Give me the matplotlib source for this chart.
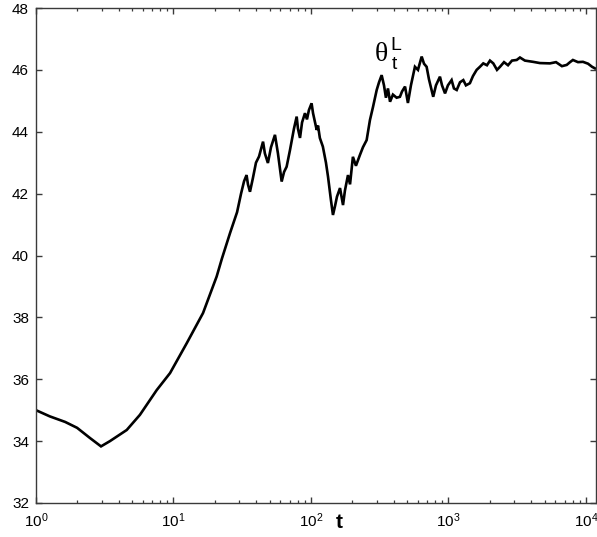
import matplotlib
matplotlib.use("Agg")
import matplotlib.pyplot as plt
from matplotlib.ticker import LogLocator, FixedLocator, NullFormatter
import matplotlib.transforms as mtransforms

plt.rcParams['font.family'] = ['Liberation Sans', 'DejaVu Sans']
plt.rcParams['mathtext.fontset'] = 'custom'
plt.rcParams['mathtext.rm'] = 'Liberation Sans'
plt.rcParams['mathtext.it'] = 'Liberation Sans:italic'
plt.rcParams['mathtext.bf'] = 'Liberation Sans:bold'

# ---- data ----
t = [1, 1.26, 1.63, 1.99, 2.47, 2.97, 3.45, 4.57, 5.7, 7.55, 9.44, 12.5, 16.4,
     20.6, 22.5, 25.8, 29.0, 31.0, 32.6, 34.0, 34.8, 36.0, 37.8, 39.8, 41.9,
     44.8, 46.2, 48.6, 51.2, 54.7, 57.5, 61.2, 63.7, 66.5, 70.3, 75.2, 78.7,
     80.4, 83.2, 86.1, 90.4, 93.5, 96.6, 101, 103.5, 110, 112.5, 116, 122,
     128.5, 133, 139.6, 144.5, 149.6, 154.5, 162.6, 171, 176.6, 185.8, 192.3,
     201.8, 212.3, 227, 238.8, 254, 268.5, 282.5, 300.6, 312.6, 326.6, 339.6,
     350.8, 363, 375.8, 394.5, 419.8, 443.6, 459.2, 483.1, 507, 533.3, 570.2,
     600, 638.3, 663.7, 693.4, 721, 774.5, 810.9, 867, 897.5, 944, 990.8,
     1054, 1096, 1148, 1213, 1282, 1340, 1432, 1507, 1603, 1694, 1791, 1905,
     2004, 2118, 2254, 2371, 2535, 2710, 2897, 3133, 3311, 3597, 4121, 4624,
     5470, 6053, 6683, 7244, 7656, 8035, 8750, 9506, 10350, 11070, 11610]
theta_L = [35.0, 34.8, 34.62, 34.43, 34.1, 33.83, 34.0, 34.36, 34.85, 35.65,
           36.2, 37.17, 38.14, 39.32, 39.9, 40.73, 41.4, 42.0, 42.4, 42.6,
           42.3, 42.06, 42.5, 43.0, 43.2, 43.68, 43.3, 42.99, 43.5, 43.9,
           43.3, 42.39, 42.7, 42.87, 43.4, 44.1, 44.49, 44.1, 43.8, 44.3,
           44.6, 44.4, 44.7, 44.92, 44.6, 44.06, 44.2, 43.8, 43.52, 43.0,
           42.55, 41.8, 41.31, 41.6, 41.9, 42.18, 41.63, 42.1, 42.6, 42.3,
           43.19, 42.9, 43.25, 43.5, 43.73, 44.38, 44.8, 45.35, 45.6, 45.83,
           45.5, 45.1, 45.4, 44.97, 45.2, 45.1, 45.13, 45.3, 45.46, 44.93,
           45.5, 46.1, 46.0, 46.43, 46.2, 46.1, 45.7, 45.13, 45.5, 45.78,
           45.5, 45.24, 45.5, 45.67, 45.4, 45.35, 45.6, 45.67, 45.5, 45.57,
           45.8, 46.0, 46.1, 46.21, 46.15, 46.3, 46.21, 46.0, 46.1, 46.25,
           46.15, 46.3, 46.32, 46.4, 46.3, 46.26, 46.22, 46.21, 46.25, 46.12,
           46.16, 46.25, 46.32, 46.25, 46.26, 46.2, 46.1, 46.05]
y_ticks = [32, 34, 36, 38, 40, 42, 44, 46, 48]
x_lim = (1, 11830)
y_lim = (32, 48)

fig = plt.figure(figsize=(5.97, 5.37), dpi=100)
ax = fig.add_axes([36/597, 1-503/537, 560/597, 495/537])

ax.plot(t, theta_L, color='black', lw=1.9, solid_joinstyle='miter')
ax.set_xscale('log')
ax.set_xlim(*x_lim)
ax.set_ylim(*y_lim)
ax.yaxis.set_major_locator(FixedLocator(y_ticks))
ax.xaxis.set_major_locator(LogLocator(base=10, numticks=10))
ax.xaxis.set_minor_locator(LogLocator(base=10, subs=range(2, 10), numticks=50))
ax.xaxis.set_minor_formatter(NullFormatter())

for s in ax.spines.values():
    s.set_color('#3a3a3a')
    s.set_linewidth(1.0)
ax.tick_params(which='both', direction='in', top=True, right=True,
               color='#3a3a3a', labelsize=11, labelcolor='black')
ax.tick_params(which='major', length=4.5, width=1.0)
ax.tick_params(which='minor', length=2.5, width=0.9)
ax.tick_params(axis='x', which='major', pad=6)
ax.tick_params(axis='y', which='major', pad=5)

# x label "t" placed near 10^2
fig.text(339/597, 1-523/537, 't', fontsize=15, fontweight='bold',
         ha='center', va='center')

# annotation theta_t^L
tx = 10 ** ((381.7 - 36) / 137.5)
ty = 48 - (55 - 8) / 30.94
ax.text(tx, ty, 'θ', family=['Liberation Serif', 'DejaVu Serif'], fontsize=20,
        ha='center', va='center')
off_t = mtransforms.offset_copy(ax.transData, fig=fig, x=9.5, y=-6.5, units='points')
off_L = mtransforms.offset_copy(ax.transData, fig=fig, x=10, y=7, units='points')
ax.text(tx, ty, 't', transform=off_t, fontsize=14, ha='center', va='center')
ax.text(tx, ty, 'L', transform=off_L, fontsize=14, ha='center', va='center')

fig.savefig('out.png', dpi=100)
